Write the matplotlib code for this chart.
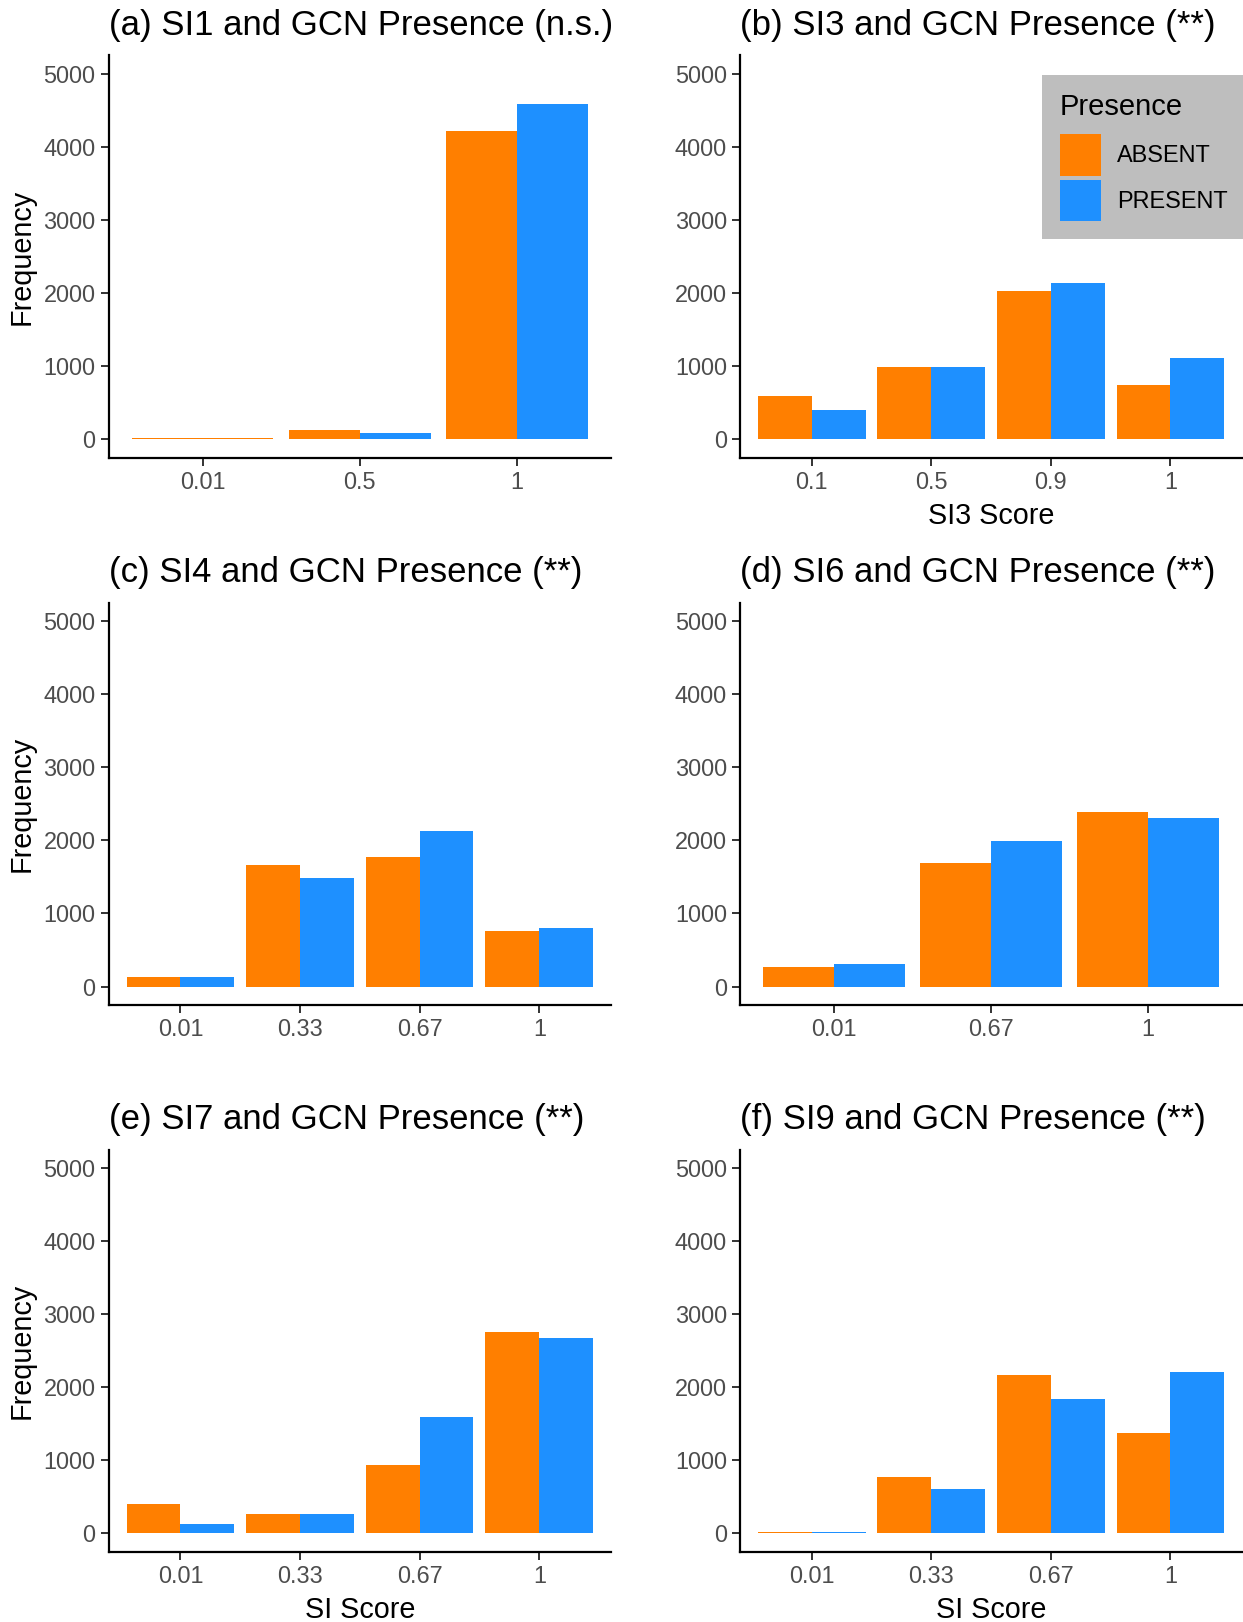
#!/usr/bin/env python3
"""SI scores vs GCN presence: six grouped bar panels."""

import numpy as np
import matplotlib.pyplot as plt

plt.rcParams['font.family'] = ['Liberation Sans', 'DejaVu Sans']

ORANGE = '#FF7F00'
BLUE = '#1E90FF'

# panel data (None = no bar for that group)
title_a = "(a) SI1 and GCN Presence (n.s.)"
cats_a = ["0.01", "0.5", "1"]
absent_a = [20, 129, 4214]
present_a = [None, 92, 4593]

title_b = "(b) SI3 and GCN Presence (**)"
cats_b = ["0.1", "0.5", "0.9", "1"]
absent_b = [591, 984, 2029, 749]
present_b = [407, 984, 2135, 1109]

title_c = "(c) SI4 and GCN Presence (**)"
cats_c = ["0.01", "0.33", "0.67", "1"]
absent_c = [134, 1662, 1769, 759]
present_c = [134, 1481, 2130, 801]

title_d = "(d) SI6 and GCN Presence (**)"
cats_d = ["0.01", "0.67", "1"]
absent_d = [269, 1685, 2380]
present_d = [315, 1986, 2310]

title_e = "(e) SI7 and GCN Presence (**)"
cats_e = ["0.01", "0.33", "0.67", "1"]
absent_e = [398, 273, 934, 2757]
present_e = [130, 273, 1596, 2674]

title_f = "(f) SI9 and GCN Presence (**)"
cats_f = ["0.01", "0.33", "0.67", "1"]
absent_f = [25, 777, 2170, 1379]
present_f = [14, 611, 1837, 2211]

W, H = 1243, 1622
fig = plt.figure(figsize=(W / 100, H / 100), dpi=100)

col_left = [0.0874, 0.5953]
col_width = [0.4042, 0.4040]
row_bottom = [0.7178, 0.3805, 0.0433]
row_height = 0.2480


def draw_panel(ax, title, cats, absent, present, xlabel=None, ylabel=None):
    x = np.arange(len(cats))
    a = np.array([np.nan if v is None else v for v in absent], dtype=float)
    p = np.array([np.nan if v is None else v for v in present], dtype=float)
    both = ~np.isnan(a) & ~np.isnan(p)
    w = np.where(both, 0.45, 0.9)
    xa = np.where(both, x - 0.225, x)
    xp = np.where(both, x + 0.225, x)
    ba = ax.bar(xa, np.nan_to_num(a), width=w, color=ORANGE, linewidth=0, label='ABSENT')
    bp = ax.bar(xp, np.nan_to_num(p), width=w, color=BLUE, linewidth=0, label='PRESENT')

    ax.set_xlim(-0.6, len(cats) - 0.4)
    ax.set_ylim(-250, 5250)
    ax.set_xticks(x)
    ax.set_xticklabels(cats)
    ax.set_yticks(np.arange(0, 5001, 1000))

    for s in ['top', 'right']:
        ax.spines[s].set_visible(False)
    for s in ['left', 'bottom']:
        ax.spines[s].set_linewidth(1.6)
        ax.spines[s].set_color('black')
    ax.tick_params(direction='out', length=5.5, width=1.4, color='#333333',
                   labelcolor='#4D4D4D', labelsize=16.9, pad=4)

    ax.set_title(title, loc='left', fontsize=25, pad=15, color='black')
    if xlabel:
        ax.set_xlabel(xlabel, fontsize=20.7, labelpad=6, color='black')
    if ylabel:
        ax.set_ylabel(ylabel, fontsize=20.7, color='black')
        ax.yaxis.set_label_coords(-0.145, 0.5)
    return ba, bp


panels = [
    (0, 0, title_a, cats_a, absent_a, present_a, None, "Frequency"),
    (0, 1, title_b, cats_b, absent_b, present_b, "SI3 Score", None),
    (1, 0, title_c, cats_c, absent_c, present_c, None, "Frequency"),
    (1, 1, title_d, cats_d, absent_d, present_d, None, None),
    (2, 0, title_e, cats_e, absent_e, present_e, "SI Score", "Frequency"),
    (2, 1, title_f, cats_f, absent_f, present_f, "SI Score", None),
]

for r, c, title, cats, absent, present, xl, yl in panels:
    ax = fig.add_axes([col_left[c], row_bottom[r], col_width[c], row_height])
    ba, bp = draw_panel(ax, title, cats, absent, present, xl, yl)
    if r == 0 and c == 1:
        leg = ax.legend(handles=[ba, bp], title="Presence",
                        loc='upper left', bbox_to_anchor=(1042 / W, 1 - 75 / H),
                        bbox_transform=fig.transFigure, borderaxespad=0,
                        frameon=True, fancybox=False, framealpha=1,
                        facecolor='#BEBEBE', edgecolor='none',
                        fontsize=16.9, title_fontsize=21,
                        handlelength=1.78, handleheight=2.354,
                        handletextpad=0.68, labelspacing=0.17,
                        borderpad=0.75, alignment='left')
        # more room between legend title and keys, like ggplot
        leg._legend_box.sep = 9.6

fig.savefig("out.png", dpi=100)
